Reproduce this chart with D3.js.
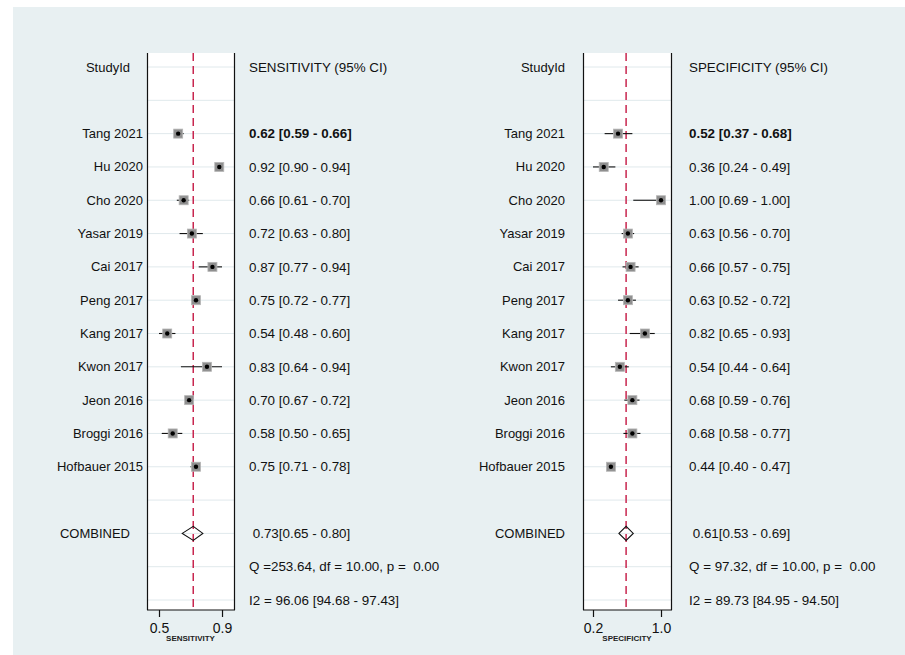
<!DOCTYPE html>
<html><head><meta charset="utf-8">
<script src="https://cdn.jsdelivr.net/npm/d3@7"></script>
<style>
html,body{margin:0;padding:0;background:#fff;}
svg{display:block;}
text{font-family:"Liberation Sans",Arial,sans-serif;white-space:pre;}
</style></head><body>
<svg id="chart" width="905" height="655"></svg>
<script>
const studies = ["Tang 2021","Hu 2020","Cho 2020","Yasar 2019","Cai 2017","Peng 2017","Kang 2017","Kwon 2017","Jeon 2016","Broggi 2016","Hofbauer 2015"];
const sensEst = [0.62,0.92,0.66,0.72,0.87,0.75,0.54,0.83,0.70,0.58,0.75];
const sensLo  = [0.59,0.90,0.61,0.63,0.77,0.72,0.48,0.64,0.67,0.50,0.71];
const sensHi  = [0.66,0.94,0.70,0.80,0.94,0.77,0.60,0.94,0.72,0.65,0.78];
const specEst = [0.52,0.36,1.00,0.63,0.66,0.63,0.82,0.54,0.68,0.68,0.44];
const specLo  = [0.37,0.24,0.69,0.56,0.57,0.52,0.65,0.44,0.59,0.58,0.40];
const specHi  = [0.68,0.49,1.00,0.70,0.75,0.72,0.93,0.64,0.76,0.77,0.47];
const sensCombined = [0.73,0.65,0.80];
const specCombined = [0.61,0.53,0.69];
const sensStats = ["Q =253.64, df = 10.00, p =  0.00","I2 = 96.06 [94.68 - 97.43]"];
const specStats = ["Q = 97.32, df = 10.00, p =  0.00","I2 = 89.73 [84.95 - 94.50]"];
const sensTicks = [0.48,0.94];
const specTicks = [0.24,1.00];
const fmt2 = d3.format(".2f");

const svg = d3.select("#chart");
svg.append("rect").attr("x",13).attr("y",7).attr("width",905-13).attr("height",655-7).attr("fill","#e8f0f2");

const y = d3.scaleLinear().domain([0,16]).range([67,600]);
const boxTop = 53, boxBottom = 610;
const FS = 13.4, FL = 13;

function panel(opt){
  const x = d3.scaleLinear().domain(opt.domain).range(opt.range);
  const g = svg.append("g");
  g.append("rect").attr("x",opt.range[0]).attr("y",boxTop)
    .attr("width",opt.range[1]-opt.range[0]).attr("height",boxBottom-boxTop).attr("fill","#fff");
  const rows = d3.range(0,17);
  g.selectAll("line.grid").data(rows).join("line").attr("class","grid")
    .attr("x1",opt.range[0]).attr("x2",opt.range[1])
    .attr("y1",d=>y(d)).attr("y2",d=>y(d))
    .attr("stroke","#e0e9ec").attr("stroke-width",1);
  [opt.range[0],opt.range[1]].forEach(xx=>{
    g.append("line").attr("x1",xx+0.5).attr("x2",xx+0.5).attr("y1",boxTop).attr("y2",boxBottom)
      .attr("stroke","#111").attr("stroke-width",1.2);
  });
  g.append("line").attr("x1",x(opt.comb[0])).attr("x2",x(opt.comb[0]))
    .attr("y1",boxTop).attr("y2",boxBottom)
    .attr("stroke","#c8264f").attr("stroke-width",1.5).attr("stroke-dasharray","8,5");
  const axis = d3.axisBottom(x).tickValues(opt.ticks).tickFormat(d3.format(".1f")).tickSize(7).tickSizeOuter(0);
  const ax = g.append("g").attr("transform",`translate(0,${boxBottom})`).call(axis);
  ax.select(".domain").attr("stroke","#111").attr("stroke-width",1.2);
  ax.selectAll(".tick line").attr("stroke","#111").attr("stroke-width",1.2);
  ax.selectAll(".tick text").attr("font-size",14).attr("fill","#111").attr("dy","0.95em")
    .attr("font-family","'Liberation Sans',Arial,sans-serif");
  ax.select(".domain").attr("d",`M${opt.range[0]},0H${opt.range[1]+1}`);
  g.append("text").attr("x",(opt.range[0]+opt.range[1])/2).attr("y",641)
    .attr("text-anchor","middle").attr("font-size",8).attr("font-weight","bold").attr("fill","#222")
    .text(opt.axisLabel);
  const idx = d3.range(studies.length);
  g.selectAll("line.ci").data(idx).join("line").attr("class","ci")
    .attr("x1",i=>x(opt.lo[i])).attr("x2",i=>x(opt.hi[i]))
    .attr("y1",i=>y(i+2)).attr("y2",i=>y(i+2))
    .attr("stroke","#111").attr("stroke-width",1.1);
  const s = 9;
  g.selectAll("rect.box").data(idx).join("rect").attr("class","box")
    .attr("x",i=>x(opt.est[i])-s/2).attr("y",i=>y(i+2)-s/2)
    .attr("width",s).attr("height",s).attr("fill","#8f8f8f").attr("stroke","#b5b5b5").attr("stroke-width",0.8);
  g.selectAll("circle.pt").data(idx).join("circle").attr("class","pt")
    .attr("cx",i=>x(opt.est[i])).attr("cy",i=>y(i+2)).attr("r",2.2).attr("fill","#000");
  const yc = y(14);
  g.append("path")
    .attr("d",`M${x(opt.comb[1])},${yc}L${x(opt.comb[0])},${yc-7}L${x(opt.comb[2])},${yc}L${x(opt.comb[0])},${yc+7}Z`)
    .attr("fill","none").attr("stroke","#111").attr("stroke-width",1.1);
  const lab = g.append("g").attr("font-size",FS).attr("fill","#111");
  lab.append("text").attr("x",opt.headX).attr("y",y(0)).attr("dy","0.35em").attr("font-size",FL).attr("text-anchor","end").text("StudyId");
  lab.selectAll("text.st").data(idx).join("text").attr("class","st")
    .attr("x",opt.labelX).attr("y",i=>y(i+2)).attr("dy","0.35em").attr("font-size",FL).attr("text-anchor","end").text(i=>studies[i]);
  lab.append("text").attr("x",opt.headX).attr("y",y(14)).attr("dy","0.35em").attr("font-size",FL).attr("text-anchor","end").text("COMBINED");
  lab.append("text").attr("x",opt.valX).attr("y",y(0)).attr("dy","0.35em").text(opt.header);
  lab.selectAll("text.val").data(idx).join("text").attr("class","val")
    .attr("x",opt.valX).attr("y",i=>y(i+2)).attr("dy","0.35em")
    .attr("font-weight",i=>i===0?"bold":"normal")
    .text(i=>`${fmt2(opt.est[i])} [${fmt2(opt.lo[i])} - ${fmt2(opt.hi[i])}]`);
  lab.append("text").attr("x",opt.valX).attr("y",y(14)).attr("dy","0.35em")
    .text(` ${fmt2(opt.comb[0])}[${fmt2(opt.comb[1])} - ${fmt2(opt.comb[2])}]`);
  lab.append("text").attr("x",opt.valX).attr("y",y(15)).attr("dy","0.35em").text(opt.stats[0]);
  lab.append("text").attr("x",opt.valX).attr("y",y(16)).attr("dy","0.35em").text(opt.stats[1]);
}

panel({domain:[0.3924,1.0275],range:[147,234],est:sensEst,lo:sensLo,hi:sensHi,comb:sensCombined,
  ticks:sensTicks,axisLabel:"SENSITIVITY",header:"SENSITIVITY (95% CI)",stats:sensStats,labelX:143,headX:130,valX:249});
panel({domain:[0.1283,1.1117],range:[583,671],est:specEst,lo:specLo,hi:specHi,comb:specCombined,
  ticks:specTicks,axisLabel:"SPECIFICITY",header:"SPECIFICITY (95% CI)",stats:specStats,labelX:565,headX:565,valX:689});
</script>
</body></html>
